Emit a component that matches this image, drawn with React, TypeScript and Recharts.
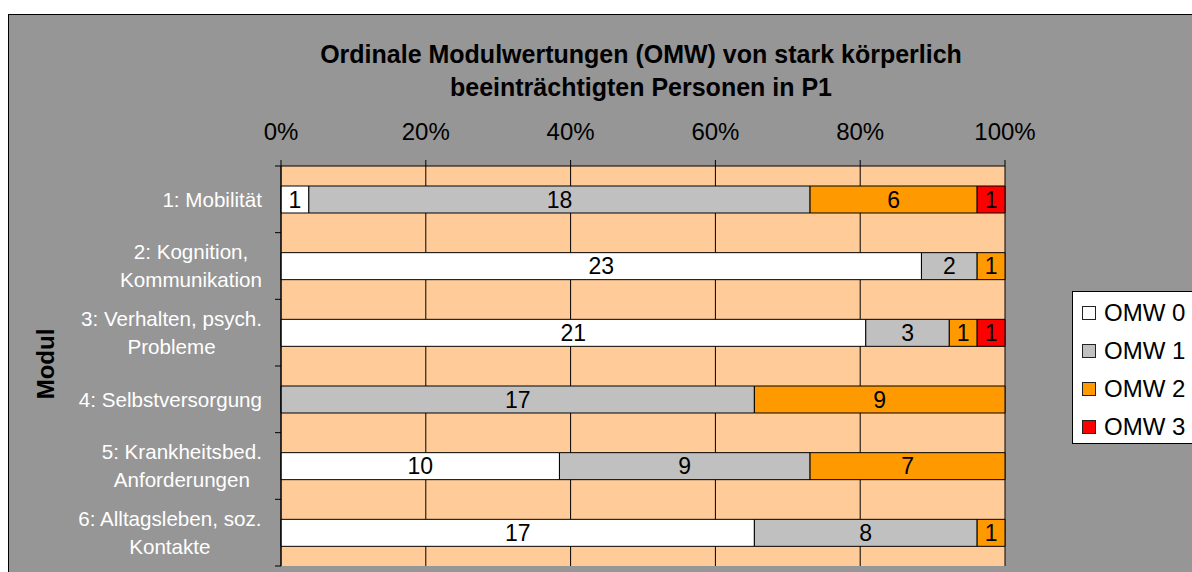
import React from 'react';
import { BarChart, Bar, XAxis, YAxis, CartesianGrid, LabelList } from 'recharts';

const categories = [
  '1: Mobilität',
  '2: Kognition,\nKommunikation',
  '3: Verhalten, psych.\nProbleme',
  '4: Selbstversorgung',
  '5: Krankheitsbed.\nAnforderungen',
  '6: Alltagsleben, soz.\nKontakte',
];
const omw0 = [1, 23, 21, 0, 10, 17];
const omw1 = [18, 2, 3, 17, 9, 8];
const omw2 = [6, 1, 1, 9, 7, 1];
const omw3 = [1, 0, 1, 0, 0, 0];

const seriesKeys = ['omw0', 'omw1', 'omw2', 'omw3'];
const seriesNames = ['OMW 0', 'OMW 1', 'OMW 2', 'OMW 3'];
const seriesColors = ['#FFFFFF', '#C0C0C0', '#FF9900', '#FF0000'];
const percentTicks = [0, 0.2, 0.4, 0.6, 0.8, 1];

const title = ['Ordinale Modulwertungen (OMW) von stark körperlich', 'beeinträchtigten Personen in P1'];
const yTitle = 'Modul';

const data = categories.map((name, i) => ({
  name,
  omw0: omw0[i],
  omw1: omw1[i],
  omw2: omw2[i],
  omw3: omw3[i],
}));

const FONT = "'Liberation Sans', Arial, sans-serif";
const CHART_W = 1183;
const CHART_H = 560;
const MARGIN = { top: 111, right: 187, bottom: 9, left: 22 };
const Y_W = 250;
const X_H = 40;
const PLOT_H = CHART_H - MARGIN.top - X_H - MARGIN.bottom;
const LABEL_GAP = 19;
const CAT_FONT = 20.6;

let ctx: CanvasRenderingContext2D | null = null;
const measure = (s: string) => {
  if (!ctx) ctx = document.createElement('canvas').getContext('2d');
  if (!ctx) return s.length * 10;
  ctx.font = `${CAT_FONT}px ${FONT}`;
  return ctx.measureText(s).width;
};

// label block right-aligned at the axis, lines centred on each other (Excel style)
const CategoryTick = (props: any) => {
  const { x, y, payload, index, visibleTicksCount } = props;
  const band = PLOT_H / categories.length;
  const axisX = x + LABEL_GAP;
  const lines = String(payload.value).split('\n');
  const maxW = Math.max(...lines.map(measure));
  const cx = x - maxW / 2;
  const lh = 28;
  const y0 = y - ((lines.length - 1) * lh) / 2;
  return (
    <g>
      <line x1={axisX - 6} x2={axisX} y1={y - band / 2} y2={y - band / 2} stroke="#000" />
      {index === visibleTicksCount - 1 && (
        <line x1={axisX - 6} x2={axisX} y1={y + band / 2} y2={y + band / 2} stroke="#000" />
      )}
      <text fill="#FFFFFF" fontSize={CAT_FONT} fontFamily={FONT} textAnchor="middle">
        {lines.map((l, i) => (
          <tspan key={i} x={cx} y={y0 + i * lh} dy="0.35em">
            {l}
          </tspan>
        ))}
      </text>
    </g>
  );
};

// fixed so the chart can run to the window edge without causing scrollbars
const App = () => (
  <div style={{ position: 'fixed', left: 8, top: 8, width: 1184, height: 564, overflow: 'hidden' }}>
    <div
      style={{
        position: 'absolute',
        left: 0,
        top: 6,
        width: 1300,
        height: 700,
        background: '#969696',
        border: '1px solid #000',
        fontFamily: FONT,
      }}
    >
      <div
        style={{
          position: 'absolute',
          left: 0,
          top: 23,
          width: 1264,
          textAlign: 'center',
          fontSize: 25,
          fontWeight: 'bold',
          lineHeight: '33px',
          color: '#000',
        }}
      >
        {title.map((t) => (
          <div key={t}>{t}</div>
        ))}
      </div>
      <div
        style={{
          position: 'absolute',
          left: 37,
          top: 349,
          transform: 'translate(-50%, -50%) rotate(-90deg)',
          fontSize: 24,
          fontWeight: 'bold',
          whiteSpace: 'nowrap',
          color: '#000',
        }}
      >
        {yTitle}
      </div>
      <div style={{ position: 'absolute', left: 0, top: 0 }}>
        <BarChart
          width={CHART_W}
          height={CHART_H}
          data={data}
          layout="vertical"
          stackOffset="expand"
          margin={MARGIN}
        >
          <CartesianGrid horizontal={false} stroke="#000" fill="#FFCC99" fillOpacity={1} />
          <XAxis
            type="number"
            orientation="top"
            domain={[0, 1]}
            ticks={percentTicks}
            interval={0}
            height={X_H}
            tickFormatter={(v: number) => `${Math.round(v * 100)}%`}
            tick={{ fill: '#000', fontSize: 24, fontFamily: FONT }}
            tickSize={6}
            tickMargin={20}
            axisLine={{ stroke: '#000' }}
            tickLine={{ stroke: '#000' }}
          />
          <YAxis
            type="category"
            dataKey="name"
            width={Y_W}
            tick={<CategoryTick />}
            tickLine={false}
            tickSize={0}
            tickMargin={LABEL_GAP}
            interval={0}
            axisLine={{ stroke: '#000' }}
          />
          {seriesKeys.map((key, i) => (
            <Bar
              key={key}
              dataKey={key}
              name={seriesNames[i]}
              stackId="omw"
              fill={seriesColors[i]}
              stroke="#000"
              strokeWidth={1}
              barSize={27}
              isAnimationActive={false}
            >
              <LabelList
                dataKey={key}
                position="center"
                fill="#000"
                fontSize={23}
                fontFamily={FONT}
                formatter={(v: any) => (v ? v : '')}
              />
            </Bar>
          ))}
        </BarChart>
      </div>
      <div
        style={{
          position: 'absolute',
          left: 1063,
          top: 276,
          width: 200,
          height: 149,
          background: '#FFFFFF',
          border: '1px solid #000',
          paddingTop: 2,
          boxSizing: 'content-box',
        }}
      >
        {seriesNames.map((n, i) => (
          <div key={n} style={{ display: 'flex', alignItems: 'center', height: 38, paddingLeft: 9 }}>
            <div
              style={{
                width: 12,
                height: 12,
                background: seriesColors[i],
                border: '1px solid #222',
                marginRight: 8,
              }}
            />
            <span style={{ fontSize: 24, color: '#000', whiteSpace: 'nowrap' }}>{n}</span>
          </div>
        ))}
      </div>
    </div>
  </div>
);

export default App;
